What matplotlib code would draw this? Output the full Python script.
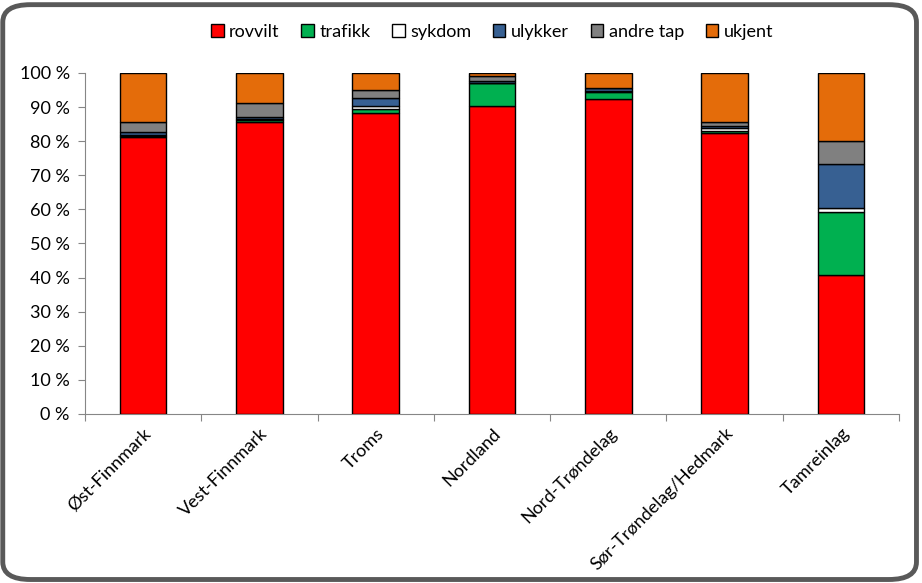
import matplotlib
matplotlib.use("Agg")
import matplotlib.pyplot as plt
import numpy as np
from matplotlib.patches import FancyBboxPatch
from matplotlib.ticker import FuncFormatter

plt.rcParams['font.family'] = ['Lato', 'DejaVu Sans']

regions = ["Øst-Finnmark", "Vest-Finnmark", "Troms", "Nordland",
           "Nord-Trøndelag", "Sør-Trøndelag/Hedmark", "Tamreinlag"]

rovvilt = [81.1, 85.5, 88.2, 90.3, 92.3, 82.3, 40.8]
trafikk = [0.4, 0.8, 1.3, 6.7, 2.2, 0.8, 18.3]
sykdom = [0.3, 0.3, 0.9, 0.2, 0.3, 0.7, 1.2]
ulykker = [0.8, 0.6, 2.2, 0.5, 0.7, 0.7, 12.9]
andre_tap = [2.9, 3.9, 2.4, 1.4, 0.0, 1.2, 6.9]
ukjent = [14.5, 8.9, 5.0, 0.9, 4.5, 14.3, 19.9]

series = [("rovvilt", rovvilt, "#FF0000"),
          ("trafikk", trafikk, "#00B050"),
          ("sykdom", sykdom, "#FFFFFF"),
          ("ulykker", ulykker, "#376092"),
          ("andre tap", andre_tap, "#808080"),
          ("ukjent", ukjent, "#E46C0A")]

fig = plt.figure(figsize=(9.22, 5.83), dpi=100)
fig.patch.set_facecolor("white")

# rounded frame around the chart area
frame = FancyBboxPatch((0.003, 0.006), 0.991, 0.986,
                       boxstyle="round,pad=0,rounding_size=0.03",
                       transform=fig.transFigure, facecolor="white",
                       edgecolor="#595959", linewidth=3.5, zorder=-1)
fig.patches.append(frame)

ax = fig.add_axes([0.0922, 0.2899, 0.8829, 0.5849])
ax.set_facecolor("none")

x = np.arange(len(regions))
bottom = np.zeros(len(regions))
for name, vals, col in series:
    vals = np.array(vals)
    ax.bar(x, vals, 0.4, bottom=bottom, color=col, edgecolor="black",
           linewidth=1, label=name, zorder=3)
    bottom += vals

ax.set_xlim(-0.5, len(regions) - 0.5)
ax.set_ylim(0, 100)
ax.set_yticks(np.arange(0, 101, 10))
ax.yaxis.set_major_formatter(FuncFormatter(lambda v, p: f"{int(v)} %"))
ax.set_xticks(np.arange(-0.5, len(regions), 1), minor=False)
ax.set_xticklabels([])
ax.set_xticks(x, minor=True)
ax.set_xticklabels(regions, minor=True, rotation=45, ha="right",
                   rotation_mode="anchor", fontsize=13)
ax.tick_params(axis="x", which="minor", length=0, pad=8)
ax.tick_params(axis="x", which="major", length=5, direction="out", color="#868686")
ax.tick_params(axis="y", length=5, color="#868686", labelsize=13, pad=6)

for s in ["top", "right"]:
    ax.spines[s].set_visible(False)
for s in ["left", "bottom"]:
    ax.spines[s].set_color("#868686")

ax.legend(loc="center", bbox_to_anchor=(0.5, 1.12), ncol=6,
          frameon=False, fontsize=13, handlelength=0.7, handleheight=0.7,
          handletextpad=0.3, columnspacing=1.2)

fig.savefig("out.png", dpi=100)
